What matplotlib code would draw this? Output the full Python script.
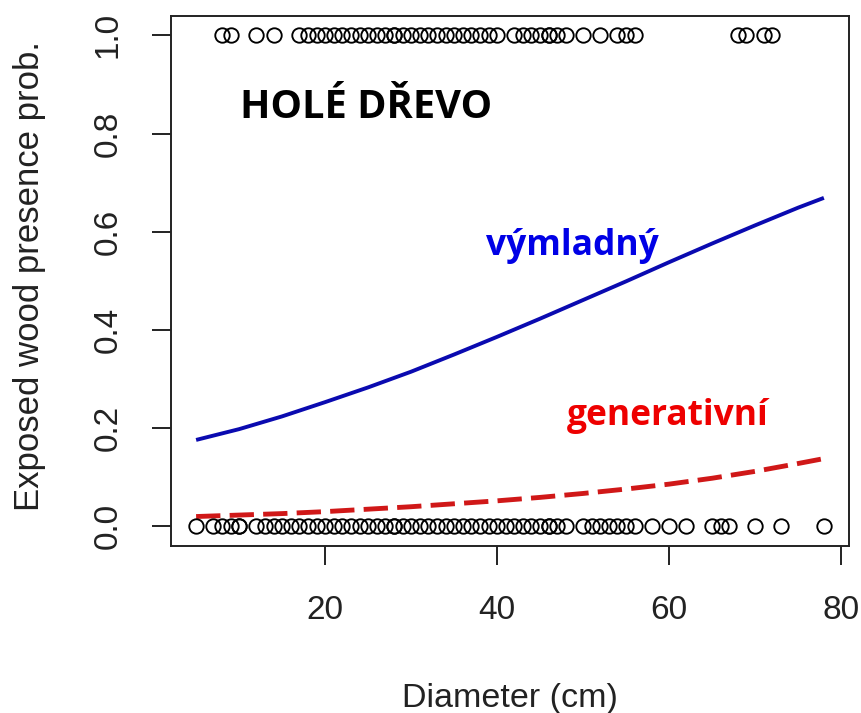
import matplotlib
matplotlib.use("Agg")
import matplotlib.pyplot as plt

# ---- data ----
presence_x = [8, 9, 12, 14, 17, 18, 19, 20, 21, 22, 23, 24, 25, 26, 27, 28, 28,
              29, 30, 31, 32, 33, 34, 35, 36, 37, 38, 39, 40, 42, 43, 44, 45,
              46, 46, 47, 48, 50, 52, 54, 55, 56, 68, 69, 71, 72]
absence_x = [5, 7, 8, 9, 10, 10, 12, 13, 14, 15, 16, 17, 18, 19, 20, 21, 22,
             23, 24, 25, 26, 27, 28, 28, 29, 30, 31, 32, 33, 34, 35, 36, 37,
             38, 39, 40, 41, 42, 43, 44, 45, 46, 46, 47, 48, 50, 51, 52, 53,
             54, 55, 56, 58, 60, 62, 65, 66, 67, 70, 73, 78]

curve_x = [5, 10, 15, 20, 25, 30, 35, 40, 45, 50, 55, 60, 65, 70, 75, 78]
vymladny_p = [0.176, 0.198, 0.224, 0.253, 0.283, 0.315, 0.350, 0.386, 0.423,
              0.461, 0.499, 0.538, 0.576, 0.613, 0.649, 0.669]
generativni_p = [0.020, 0.023, 0.026, 0.030, 0.035, 0.040, 0.046, 0.052,
                 0.059, 0.067, 0.076, 0.086, 0.098, 0.112, 0.128, 0.138]

x_ticks = [20, 40, 60, 80]
y_ticks = [0.0, 0.2, 0.4, 0.6, 0.8, 1.0]
y_tick_labels = ["0.0", "0.2", "0.4", "0.6", "0.8", "1.0"]

title_text = "HOLÉ DŘEVO"
label_vym = "výmladný"
label_gen = "generativní"
x_label = "Diameter (cm)"
y_label = "Exposed wood presence prob."

# ---- figure ----
W, H = 862, 713
fig = plt.figure(figsize=(W / 100, H / 100), dpi=100)
ax = fig.add_axes([171 / W, 1 - 546 / H, 678 / W, 530.3 / H])

sans = ["Liberation Sans", "DejaVu Sans"]
bold_font = ["Open Sans", "DejaVu Sans"]
ink = "#222222"

ax.plot(presence_x, [1] * len(presence_x), "o", mfc="none", mec="black",
        ms=10.4, mew=1.35, zorder=3)
ax.plot(absence_x, [0] * len(absence_x), "o", mfc="none", mec="black",
        ms=10.4, mew=1.35, zorder=3)

ax.plot(curve_x, vymladny_p, color="#0a0ab0", lw=2.8, solid_capstyle="butt")
ax.plot(curve_x, generativni_p, color="#d01818", lw=3.5,
        dashes=(5.0, 1.9), dash_capstyle="butt")

ax.set_xlim(2.08, 80.92)
ax.set_ylim(-0.04, 1.04)
ax.set_xticks(x_ticks)
ax.set_xticklabels([str(t) for t in x_ticks], family=sans, size=24,
                   color=ink)
ax.set_yticks(y_ticks)
ax.set_yticklabels(y_tick_labels, rotation=90, va="center", family=sans,
                   size=24, color=ink)
ax.tick_params(axis="both", direction="out", length=14, width=1.4, color=ink)
ax.tick_params(axis="x", pad=21)
ax.tick_params(axis="y", pad=20)
for s in ax.spines.values():
    s.set_linewidth(1.4)
    s.set_color(ink)

ax.set_xlabel(x_label, family=sans, size=24.5, color=ink, va="baseline")
ax.xaxis.set_label_coords(0.5, -0.303)
ax.set_ylabel(y_label, family=sans, size=25, color=ink, va="center")
ax.yaxis.set_label_coords(-0.2094, 0.509)

ax.text(10.05, 0.831, title_text, family=bold_font, weight="bold", size=28.6,
        color="black", ha="left", va="baseline")
ax.text(38.7, 0.5526, label_vym, family=bold_font, weight="bold", size=25.5,
        color="#0000e6", ha="left", va="baseline")
ax.text(48.1, 0.2068, label_gen, family=bold_font, weight="bold", size=25.5,
        color="#ee0000", ha="left", va="baseline")

fig.savefig("out.png", dpi=100)
